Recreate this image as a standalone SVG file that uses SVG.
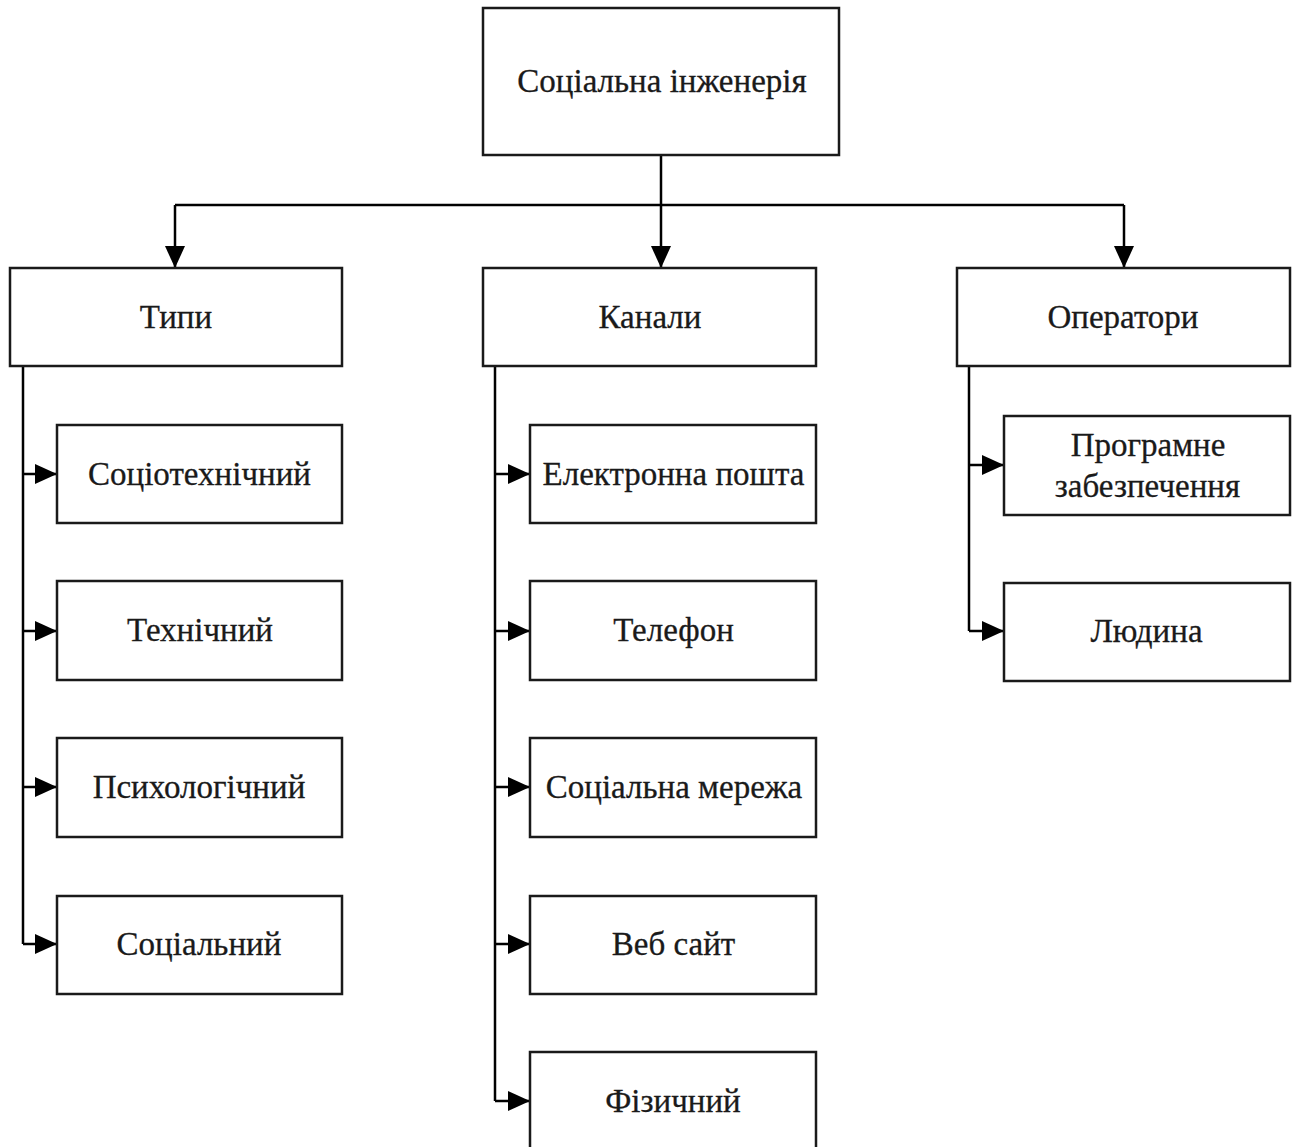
<svg xmlns="http://www.w3.org/2000/svg" width="1296" height="1147" viewBox="0 0 1296 1147">
<defs>
<marker id="ah" viewBox="0 0 22 20" refX="22" refY="10" markerWidth="22" markerHeight="20" markerUnits="userSpaceOnUse" orient="auto">
<path d="M0,0 L22,10 L0,20 Z" fill="#000"/>
</marker>
</defs>
<style>
.box{fill:#fff;stroke:#1a1a1a;stroke-width:2.5}
.t{font-family:"Liberation Serif","Times New Roman",serif;font-size:33px;fill:#1a1a1a;stroke:#1a1a1a;stroke-width:0.3;text-anchor:middle}
.c{fill:none;stroke:#000;stroke-width:2.5}
</style>
<rect width="1296" height="1147" fill="#fff"/>
<g id="connectors">
<path class="c" d="M661,155 V205"/>
<path class="c" d="M175,205 H1124"/>
<path class="c" d="M175,205 V268" marker-end="url(#ah)"/>
<path class="c" d="M661,205 V268" marker-end="url(#ah)"/>
<path class="c" d="M1124,205 V268" marker-end="url(#ah)"/>
<path class="c" d="M23,366 V944"/>
<path class="c" d="M23,474 H57" marker-end="url(#ah)"/>
<path class="c" d="M23,631 H57" marker-end="url(#ah)"/>
<path class="c" d="M23,787 H57" marker-end="url(#ah)"/>
<path class="c" d="M23,944 H57" marker-end="url(#ah)"/>
<path class="c" d="M495,366 V1101"/>
<path class="c" d="M495,474 H530" marker-end="url(#ah)"/>
<path class="c" d="M495,631 H530" marker-end="url(#ah)"/>
<path class="c" d="M495,787 H530" marker-end="url(#ah)"/>
<path class="c" d="M495,944 H530" marker-end="url(#ah)"/>
<path class="c" d="M495,1101 H530" marker-end="url(#ah)"/>
<path class="c" d="M969,366 V631"/>
<path class="c" d="M969,465 H1004" marker-end="url(#ah)"/>
<path class="c" d="M969,631 H1004" marker-end="url(#ah)"/>
</g>
<g id="root"><rect class="box" x="483" y="8" width="356" height="147"/><text class="t" x="662" y="92">Соціальна інженерія</text></g>
<g id="typy"><rect class="box" x="10" y="268" width="332" height="98"/><text class="t" x="176" y="328">Типи</text></g>
<g id="kanaly"><rect class="box" x="483" y="268" width="333" height="98"/><text class="t" x="650" y="328">Канали</text></g>
<g id="operatory"><rect class="box" x="957" y="268" width="333" height="98"/><text class="t" x="1123" y="328">Оператори</text></g>
<g id="t1"><rect class="box" x="57" y="425" width="285" height="98"/><text class="t" x="199.5" y="485">Соціотехнічний</text></g>
<g id="t2"><rect class="box" x="57" y="581" width="285" height="99"/><text class="t" x="200" y="641">Технічний</text></g>
<g id="t3"><rect class="box" x="57" y="738" width="285" height="99"/><text class="t" x="199" y="798">Психологічний</text></g>
<g id="t4"><rect class="box" x="57" y="896" width="285" height="98"/><text class="t" x="199" y="955">Соціальний</text></g>
<g id="k1"><rect class="box" x="530" y="425" width="286" height="98"/><text class="t" x="673.5" y="485">Електронна пошта</text></g>
<g id="k2"><rect class="box" x="530" y="581" width="286" height="99"/><text class="t" x="673.5" y="641">Телефон</text></g>
<g id="k3"><rect class="box" x="530" y="738" width="286" height="99"/><text class="t" x="674" y="798">Соціальна мережа</text></g>
<g id="k4"><rect class="box" x="530" y="896" width="286" height="98"/><text class="t" x="673.5" y="955">Веб сайт</text></g>
<g id="k5"><rect class="box" x="530" y="1052" width="286" height="100"/><text class="t" x="673" y="1112">Фізичний</text></g>
<g id="o1"><rect class="box" x="1004" y="416" width="286" height="99"/><text class="t" x="1148" y="456">Програмне</text><text class="t" x="1147.5" y="497">забезпечення</text></g>
<g id="o2"><rect class="box" x="1004" y="583" width="286" height="98"/><text class="t" x="1146.5" y="642">Людина</text></g>
</svg>
